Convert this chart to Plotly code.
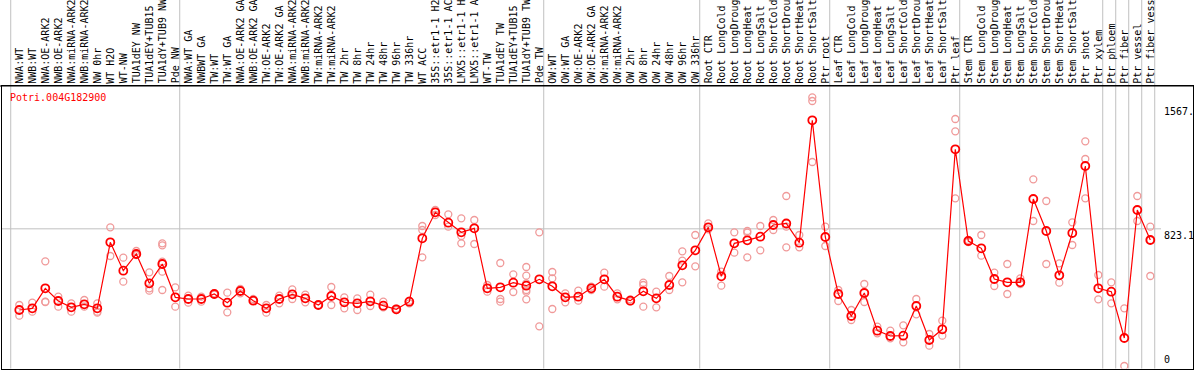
import plotly.graph_objects as go

labels = ["NWA:WT","NWB:WT","NWA:OE-ARK2","NWB:OE-ARK2","NWA:miRNA-ARK2","NWB:miRNA-ARK2","NW 0hr","WT H2O","WT-NW",
          "TUA1dEY NW","TUA1dEY+TUB15","TUA1dY+TUB9 NW","Pde NW","NWA:WT GA","NWBWT GA","TW:WT","TW:WT GA",
          "NWA:OE-ARK2 GA","NWB:OE-ARK2 GA","TW:OE-ARK2","TW:OE-ARK2 GA","NWA:miRNA-ARK2","NWB:miRNA-ARK2",
          "TW:miRNA-ARK2","TW:miRNA-ARK2","TW 2hr","TW 8hr","TW 24hr","TW 48hr","TW 96hr","TW 336hr","WT ACC",
          "35S::etr1-1 H2","35S::etr1-1 AC","LMX5::etr1-1 H","LMX5::etr1-1 A","WT-TW","TUA1dEY TW","TUA1dEY+TUB15",
          "TUA1dY+TUB9 TW","Pde TW","OW:WT","OW:WT GA","OW:OE-ARK2","OW:OE-ARK2 GA","OW:miRNA-ARK2","OW:miRNA-ARK2",
          "OW 2hr","OW 8hr","OW 24hr","OW 48hr","OW 96hr","OW 336hr","Root CTR","Root LongCold","Root LongDroug",
          "Root LongHeat","Root LongSalt","Root ShortCold","Root ShortDrou","Root ShortHeat","Root ShortSalt",
          "Ptr root","Leaf CTR","Leaf LongCold","Leaf LongDroug","Leaf LongHeat","Leaf LongSalt","Leaf ShortCold",
          "Leaf ShortDrou","Leaf ShortHeat","Leaf ShortSalt","Ptr leaf","Stem CTR","Stem LongCold","Stem LongDroug",
          "Stem LongHeat","Stem LongSalt","Stem ShortCold","Stem ShortDrou","Stem ShortHeat","Stem ShortSalt",
          "Ptr shoot","Ptr xylem","Ptr phloem","Ptr fiber","Ptr vessel","Ptr fiber vess"]

means = [336,346,466,390,352,370,346,742,572,672,496,612,412,402,402,432,380,450,392,346,
         402,430,406,366,420,382,376,388,362,340,386,766,922,860,802,826,466,472,500,482,
         520,478,412,416,466,520,416,392,448,406,486,604,694,832,538,736,754,776,846,855,
         740,1474,774,432,300,438,212,180,182,360,156,220,1300,750,706,522,502,502,1002,810,
         544,798,1200,466,446,168,936,756]

replicates = [[366,302],[380,326],[628,386,384],[416,356],[376,326],[396,356],[376,326,320],[832,660],
              [650,506],[690,666],[562,466,452],[736,724,626,566,456],[472,356],[422,380],[416,386],[436,428],
              [440,322],[462,436],[392,402],[366,320],[422,376],[460,402],[428,382],[366,366],[474,366],
              [412,346],[406,336],[428,360],[386,352],[336,344],[376,392],[840,816,652],[936,906],[910,836],
              [886,780,736],[876,732],[486,446],[618,402,386],[550,444],[594,542,496,456,446,400],[802,238],
              [564,526,342],[436,382],[452,392],[476,456],[560,476],[436,400],[400,388],[500,486,356],[446,352],
              [540,456],[688,632,502],[786,598],[856,820],[566,482],[802,680],[810,800,652],[840,694],[876,816],
              [1020,836,712],[786,712],[1612,1590,1224],[836,720],[456,390],[336,276],[492,384],[236,196],
              [212,166],[244,142],[402,310],[192,122],[272,182],[1482,1408,1006],[756,744],[786,662],[560,480],
              [612,432],[526,492],[1120,870],[990,612],[616,500],[862,726],[1348,1242,1006],[546,400],[502,376],
              [346,0],[1020,870],[836,756,540]]

group_breaks = [0, 13, 41, 53, 63, 73, 84, 85, 86, 87, 88]
y_tick_values = [1567, 823.1, 0]
y_tick_texts = ["1567.", "823.1", "0"]
gene = "Potri.004G182900"

W, H = 1194, 370
FONT = "DejaVu Sans Mono"

rx, ry = [], []
for i, reps in enumerate(replicates):
    for v in reps:
        rx.append(i)
        ry.append(v)

fig = go.Figure()
fig.add_trace(go.Scatter(x=rx, y=ry, mode="markers",
                         marker=dict(symbol="circle-open", size=7, color="#f09a9a", line=dict(width=1.3, color="#f09a9a")),
                         hoverinfo="skip"))
fig.add_trace(go.Scatter(x=list(range(len(means))), y=means, mode="lines+markers",
                         line=dict(color="#ff0000", width=1.2),
                         marker=dict(symbol="circle", size=8, color="rgba(255,255,255,0)",
                                     line=dict(width=1.8, color="#ff0000"))))

shapes = []
for k in group_breaks:
    shapes.append(dict(type="line", xref="x", yref="paper", x0=k - 0.66, x1=k - 0.66, y0=1.5 / H, y1=1,
                       line=dict(color="#c0c0c0", width=1), layer="below"))
shapes.append(dict(type="line", xref="paper", yref="y", x0=1.5 / W, x1=1161 / W, y0=823.1, y1=823.1,
                   line=dict(color="#c0c0c0", width=1), layer="below"))
shapes.append(dict(type="line", xref="paper", yref="paper", x0=0, x1=1, y0=(H - 86) / H, y1=(H - 86) / H,
                   line=dict(color="black", width=1.2)))

annotations = []
for i, lab in enumerate(labels):
    annotations.append(dict(x=i, xref="x", y=(H - 84.5) / H, yref="paper", text=lab, showarrow=False,
                            textangle=-90, xanchor="center", yanchor="bottom", borderpad=0,
                            font=dict(family=FONT, size=10, color="black")))
for v, t in zip(y_tick_values, y_tick_texts):
    annotations.append(dict(x=1163 / W, xref="paper", y=v, yref="y", text=t, showarrow=False,
                            xanchor="left", yanchor="bottom" if v == 0 else "top", borderpad=0,
                            font=dict(family=FONT, size=10, color="black")))
annotations.append(dict(x=9 / W, xref="paper", y=(H - 97.5) / H, yref="paper", text=gene, showarrow=False,
                        xanchor="left", yanchor="middle", borderpad=0,
                        font=dict(family=FONT, size=10, color="#ff0000")))

fig.update_layout(
    width=W, height=H, margin=dict(l=0, r=0, t=0, b=0),
    paper_bgcolor="white", plot_bgcolor="white", showlegend=False,
    xaxis=dict(domain=[1.5 / W, 1193 / W], range=[-1.369, 90.285], showgrid=False, zeroline=False,
               showticklabels=False, ticks="", showline=True, mirror=True, linecolor="black", linewidth=1.2),
    yaxis=dict(domain=[1.5 / H, (H - 86) / H], range=[-15, 1680], showgrid=False, zeroline=False,
               showticklabels=False, ticks="", showline=True, mirror=True, linecolor="black", linewidth=1.2),
    shapes=shapes, annotations=annotations,
)

fig.write_html("out.html", config={"displayModeBar": False},
               post_script="document.body.style.margin='0px';document.body.style.overflow='hidden';")
